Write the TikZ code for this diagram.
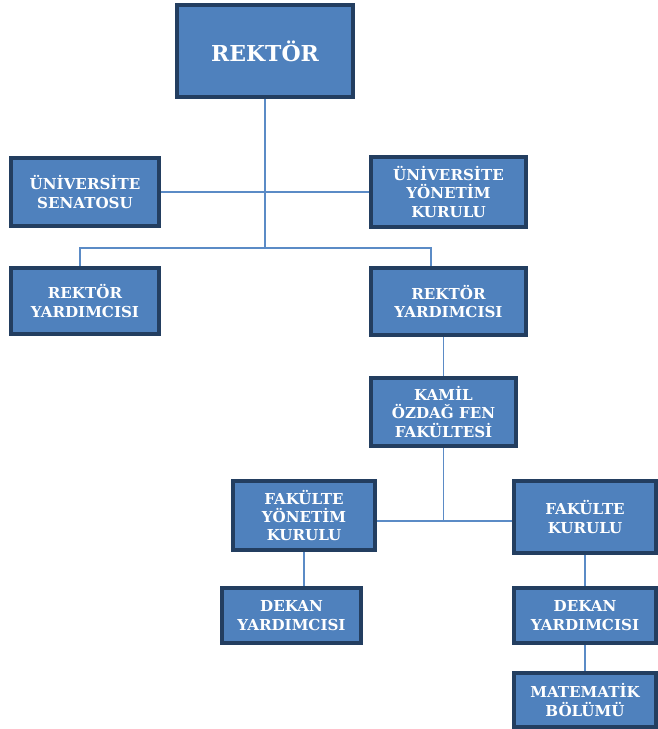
\documentclass[tikz,border=0pt]{standalone}
\usepackage{fontspec}
\setmainfont{DejaVu Serif}
\usepackage{tikz}
\usetikzlibrary{positioning}
\definecolor{boxblue}{HTML}{4F81BD}
\definecolor{boxedge}{HTML}{233E60}
\definecolor{wireblue}{HTML}{5B8BC6}
\tikzstyle{unit} = [draw=boxedge, line width=2.2pt, fill=boxblue, rectangle, inner sep=0pt, align=center, text=white, font=\fontsize{8.6}{10.4}\selectfont\bfseries]
\tikzstyle{wire} = [draw=wireblue, line width=0.8pt]

\begin{document}
\begin{tikzpicture}[x=0.02cm, y=-0.02cm]
 \useasboundingbox (0,0) rectangle (657,729);
 % nodes
    \node [unit, minimum width=3.52cm, minimum height=1.84cm, font=\fontsize{12.5}{14}\selectfont\bfseries, name=rektor] at (265,51) {REKTÖR};
    \node [unit, minimum width=2.96cm, minimum height=1.36cm, name=senato] at (85,192) {ÜNİVERSİTE\\SENATOSU};
    \node [unit, minimum width=3.10cm, minimum height=1.40cm, name=yonetim] at (448.5,192) {ÜNİVERSİTE\\YÖNETİM\\KURULU};
    \node [unit, minimum width=2.96cm, minimum height=1.32cm, name=yardleft] at (85,301) {REKTÖR\\YARDIMCISI};
    \node [unit, minimum width=3.10cm, minimum height=1.34cm, name=yardright] at (448.5,301.5) {REKTÖR\\YARDIMCISI};
    \node [unit, minimum width=2.90cm, minimum height=1.36cm, name=fen] at (443.5,412) {KAMİL\\ÖZDAĞ FEN\\FAKÜLTESİ};
    \node [unit, minimum width=2.84cm, minimum height=1.38cm, name=fakyon] at (304,515.5) {FAKÜLTE\\YÖNETİM\\KURULU};
    \node [unit, minimum width=2.84cm, minimum height=1.44cm, name=fakkur] at (585,517) {FAKÜLTE\\KURULU};
    \node [unit, minimum width=2.78cm, minimum height=1.10cm, name=dekanleft] at (291.5,615.5) {DEKAN\\YARDIMCISI};
    \node [unit, minimum width=2.84cm, minimum height=1.10cm, name=dekanright] at (585,615.5) {DEKAN\\YARDIMCISI};
    \node [unit, minimum width=2.84cm, minimum height=1.08cm, name=matematik] at (585,700) {MATEMATİK\\BÖLÜMÜ};
    \coordinate (split) at (265,248);
    \coordinate (splitl) at (80,248);
    \coordinate (splitr) at (431,248);
    \coordinate (fenjoin) at (443.5,521);
    % edges
    \draw [wire] (rektor) -- (split);
    \draw [wire] (senato) -- (yonetim);
    \draw [wire] (splitl |- yardleft.north) -- (splitl) -- (splitr) -- (splitr |- yardright.north);
    \draw [wire] (yardright.south -| fen) -- (fen);
    \draw [wire] (fen) -- (fenjoin);
    \draw [wire] (fakyon.east |- fenjoin) -- (fakkur.west |- fenjoin);
    \draw [wire] (fakyon) -- (fakyon.south |- dekanleft.north);
    \draw [wire] (fakkur) -- (dekanright);
    \draw [wire] (dekanright) -- (matematik);
\end{tikzpicture}
\end{document}
